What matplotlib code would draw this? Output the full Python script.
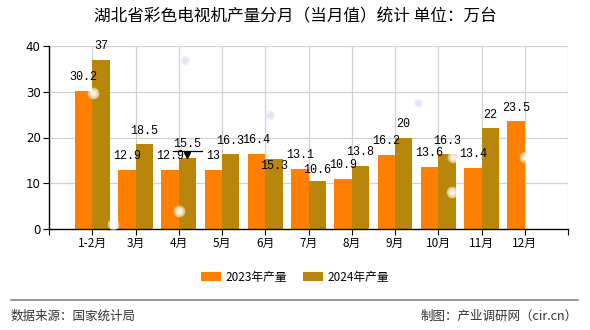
import matplotlib
matplotlib.use('Agg')
import matplotlib.pyplot as plt
from matplotlib.transforms import offset_copy

plt.rcParams['font.family'] = ['Noto Sans CJK SC', 'DejaVu Sans']

months = ['1-2月', '3月', '4月', '5月', '6月', '7月', '8月', '9月', '10月', '11月', '12月']
out_2023 = [30.2, 12.9, 12.9, 13, 16.4, 13.1, 10.9, 16.2, 13.6, 13.4, 23.5]
out_2024 = [37, 18.5, 15.5, 16.3, 15.3, 10.6, 13.8, 20, 16.3, 22]

c23 = '#FF8000'
c24 = '#B8860B'
w = 0.4

fig = plt.figure(figsize=(5.9, 3.3), dpi=100)
ax = fig.add_axes([49 / 590, 1 - 229 / 330, 519 / 590, 183 / 330])

x23 = [i + 1 - w / 2 for i in range(len(out_2023))]
x24 = [i + 1 + w / 2 for i in range(len(out_2024))]
ax.bar(x23, out_2023, width=w, color=c23, label='2023年产量', zorder=2)
ax.bar(x24, out_2024, width=w, color=c24, label='2024年产量', zorder=2)

def num(v):
    return ('%g' % v)

# value labels, a couple pushed around so they don't collide
shift24 = {4: -9, 5: 3}
for i, v in enumerate(out_2023):
    ax.annotate(num(v), (x23[i], v), xytext=(0, 5.5), textcoords='offset points',
                ha='center', va='bottom', fontsize=8.5, family='Liberation Mono', zorder=4)
for i, v in enumerate(out_2024):
    ax.annotate(num(v), (x24[i], v), xytext=(0, shift24.get(i, 5.5)), textcoords='offset points',
                ha='center', va='bottom', fontsize=8.5, family='Liberation Mono', zorder=4)

# hover marker on 4月
k = 2
tr = offset_copy(ax.transData, fig=fig, x=0, y=5, units='points')
ax.plot([x24[k] - 0.33, x24[k] + 0.33], [out_2024[k]] * 2, color='black', lw=0.9, transform=tr, zorder=5)
tr2 = offset_copy(ax.transData, fig=fig, x=0, y=2, units='points')
ax.plot([x24[k]], [out_2024[k]], marker='v', color='black', ms=4, transform=tr2, zorder=5)

ax.set_xlim(0, 12)
ax.set_ylim(0, 40)
ax.set_xticks(range(0, 13))
ax.set_xticklabels([''] + months + [''], fontsize=8.5)
ax.set_yticks([0, 10, 20, 30, 40])
ax.tick_params(axis='y', labelsize=8.5, length=4, width=0.8, pad=2)
ax.tick_params(axis='x', length=4, width=0.8, pad=2)
for lab in ax.get_yticklabels():
    lab.set_family('DejaVu Sans')

for xv in range(1, 13):
    ax.axvline(xv, color='#d3d3d3', lw=0.9, zorder=1)
for yv in [10, 20, 30, 40]:
    ax.axhline(yv, color='#d3d3d3', lw=0.9, zorder=1)

ax.spines['top'].set_visible(False)
ax.spines['right'].set_visible(False)
ax.spines['left'].set_linewidth(1)
ax.spines['bottom'].set_linewidth(1)

# faint bokeh dots scattered over the figure
dots_white = [(93, 93), (113, 224), (179, 211), (453, 157), (452, 192), (525, 157)]
dots_blue = [(185, 60), (270, 115), (418, 103), (521, 36), (429, 267)]
for pts, col, a, sizes in [(dots_white, 'white', 0.3, [70, 35, 15]),
                           (dots_blue, '#d8d8f2', 0.25, [40, 15])]:
    xs = [p[0] / 590 for p in pts]
    ys = [1 - p[1] / 330 for p in pts]
    for s in sizes:
        fig.add_artist(plt.scatter(xs, ys, s=s, color=col, alpha=a, lw=0,
                                   transform=fig.transFigure, zorder=6))

fig.text(0.5, 1 - 17 / 330, '湖北省彩色电视机产量分月（当月值）统计 单位：万台',
         ha='center', va='center', fontsize=12)

fig.legend(loc='center', bbox_to_anchor=(0.5, 1 - 277 / 330), ncol=2, frameon=False,
           fontsize=8.5, handlelength=1.7, handleheight=0.75, columnspacing=1.3, handletextpad=0.4)

fig.add_artist(plt.Line2D([11 / 590, 578 / 590], [1 - 300 / 330] * 2, color='#888888', lw=1.2))
fig.text(11 / 590, 1 - 316 / 330, '数据来源：国家统计局', ha='left', va='center', fontsize=9, color='#333333')
fig.text(578 / 590, 1 - 316 / 330, '制图：产业调研网（cir.cn）', ha='right', va='center', fontsize=9, color='#333333')

fig.savefig('out.png', dpi=100)
